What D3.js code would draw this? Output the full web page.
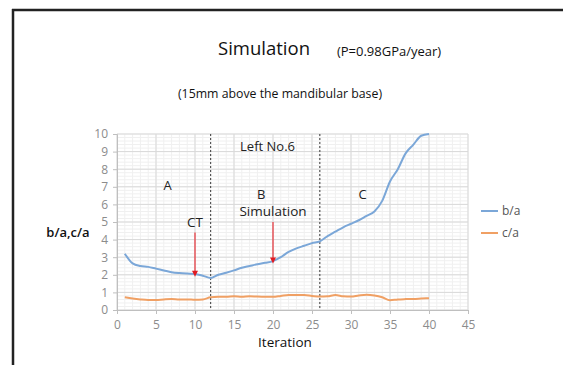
<!DOCTYPE html>
<html><head><meta charset="utf-8">
<script src="https://cdn.jsdelivr.net/npm/d3@7"></script>
<style>body{margin:0;background:#fff}svg{display:block}</style>
</head><body>
<script>
const iterations = d3.range(1, 41);
const ba = [3.2,2.65,2.5,2.45,2.35,2.25,2.15,2.1,2.07,2.05,1.95,1.82,2.0,2.12,2.25,2.4,2.5,2.6,2.68,2.78,3.0,3.3,3.5,3.65,3.8,3.9,4.2,4.45,4.7,4.9,5.1,5.35,5.6,6.2,7.3,8.0,8.9,9.4,9.9,10.0];
const ca = [0.72,0.65,0.6,0.57,0.57,0.6,0.62,0.6,0.6,0.58,0.6,0.72,0.75,0.75,0.78,0.75,0.78,0.76,0.75,0.75,0.8,0.85,0.85,0.85,0.8,0.76,0.78,0.85,0.78,0.76,0.82,0.86,0.82,0.72,0.55,0.6,0.62,0.63,0.65,0.67];
const xTicks = [0,5,10,15,20,25,30,35,40,45];
const yTicks = [0,1,2,3,4,5,6,7,8,9,10];
const phaseBounds = [12, 26];
const phaseLabels = [{t:"A", x:6.5, y:6.8},{t:"B", x:18.5, y:6.3},{t:"C", x:31.5, y:6.3}];
const arrows = [{t:"CT", x:10, yTop:4.4, yTip:1.95},{t:"Simulation", x:20, yTop:5.0, yTip:2.7}];

const W=563,H=365;
const svg=d3.select("body").append("svg").attr("width",W).attr("height",H);
const font="'Open Sans', 'Noto Sans', sans-serif";
svg.append("rect").attr("width",W).attr("height",H).attr("fill","#fff");
// frame
svg.append("line").attr("x1",12).attr("x2",W).attr("y1",10).attr("y2",10).attr("stroke","#222").attr("stroke-width",2.5);
svg.append("line").attr("x1",13).attr("x2",13).attr("y1",9).attr("y2",H).attr("stroke","#222").attr("stroke-width",2.5);

const x=d3.scaleLinear().domain([0,45]).range([117,468]);
const y=d3.scaleLinear().domain([0,10]).range([310,134]);

// minor grid
const g=svg.append("g");
g.selectAll(".mx").data(d3.range(0,45.01,1)).join("line")
 .attr("x1",d=>x(d)).attr("x2",d=>x(d)).attr("y1",y(0)).attr("y2",y(10))
 .attr("stroke","#f0f0f0").attr("stroke-width",1);
g.selectAll(".my").data(d3.range(0,10.01,0.2)).join("line")
 .attr("x1",x(0)).attr("x2",x(45)).attr("y1",d=>y(d)).attr("y2",d=>y(d))
 .attr("stroke","#f0f0f0").attr("stroke-width",1);
// major grid
g.selectAll(".Mx").data(xTicks).join("line")
 .attr("x1",d=>x(d)).attr("x2",d=>x(d)).attr("y1",y(0)).attr("y2",y(10))
 .attr("stroke","#d9d9d9").attr("stroke-width",1);
g.selectAll(".My").data(yTicks).join("line")
 .attr("x1",x(0)).attr("x2",x(45)).attr("y1",d=>y(d)).attr("y2",d=>y(d))
 .attr("stroke","#d9d9d9").attr("stroke-width",1);

// axes
const xa=svg.append("g").attr("transform",`translate(0,${y(0)})`)
 .call(d3.axisBottom(x).tickValues(xTicks).tickSize(4).tickPadding(6));
const ya=svg.append("g").attr("transform",`translate(${x(0)},0)`)
 .call(d3.axisLeft(y).tickValues(yTicks).tickSize(4).tickPadding(5));
[xa,ya].forEach(a=>{
 a.select(".domain").attr("stroke","#bfbfbf");
 a.selectAll(".tick line").attr("stroke","#bfbfbf");
 a.selectAll("text").attr("fill","#8c8c8c").style("font-family",font).style("font-size","12px");
});

// phase dividers
svg.selectAll(".ph").data(phaseBounds).join("line")
 .attr("x1",d=>x(d)).attr("x2",d=>x(d)).attr("y1",y(10)).attr("y2",y(0))
 .attr("stroke","#555").attr("stroke-width",1.2).attr("stroke-dasharray","2,2");

// lines
const line=(vals)=>d3.line().x((d,i)=>x(iterations[i])).y(d=>y(d)).curve(d3.curveMonotoneX)(vals);
svg.append("path").attr("d",line(ca)).attr("fill","none").attr("stroke","#f0a064").attr("stroke-width",2);
svg.append("path").attr("d",line(ba)).attr("fill","none").attr("stroke","#7ba7d8").attr("stroke-width",2);

// annotations
const txt=(s,xx,yy,size,anchor="middle",fill="#222",weight=500)=>svg.append("text").attr("x",xx).attr("y",yy)
 .attr("text-anchor",anchor).attr("fill",fill).style("font-family",font).style("font-weight",weight)
 .style("font-size",size+"px").text(s);
phaseLabels.forEach(p=>txt(p.t,x(p.x),y(p.y),13));
txt("Left No.6",x(19.3),y(9.05),13);
arrows.forEach(a=>{
 svg.append("line").attr("x1",x(a.x)).attr("x2",x(a.x)).attr("y1",y(a.yTop)).attr("y2",y(a.yTip)-3)
  .attr("stroke","#e8333a").attr("stroke-width",1.2);
 svg.append("path").attr("d",`M${x(a.x)-3},${y(a.yTip)-5}L${x(a.x)+3},${y(a.yTip)-5}L${x(a.x)},${y(a.yTip)+1}Z`).attr("fill","#e01b22");
 txt(a.t,x(a.x),y(a.yTop)-6,13.5);
});

txt("Simulation",264,55,18.5,"middle","#111");
txt("(P=0.98GPa/year)",389,56,13,"middle","#111");
txt("(15mm above the mandibular base)",280,98,12.3,"middle","#111");
txt("b/a,c/a",68,237,13,"middle","#111",600);
txt("Iteration",285,347,13.5,"middle","#111");

// legend
const leg=[{n:"b/a",c:"#7ba7d8",y:211},{n:"c/a",c:"#f0a064",y:233}];
leg.forEach(l=>{
 svg.append("line").attr("x1",481).attr("x2",498).attr("y1",l.y).attr("y2",l.y).attr("stroke",l.c).attr("stroke-width",2);
 txt(l.n,502,l.y+4,12,"start","#555");
});
</script>
</body></html>
